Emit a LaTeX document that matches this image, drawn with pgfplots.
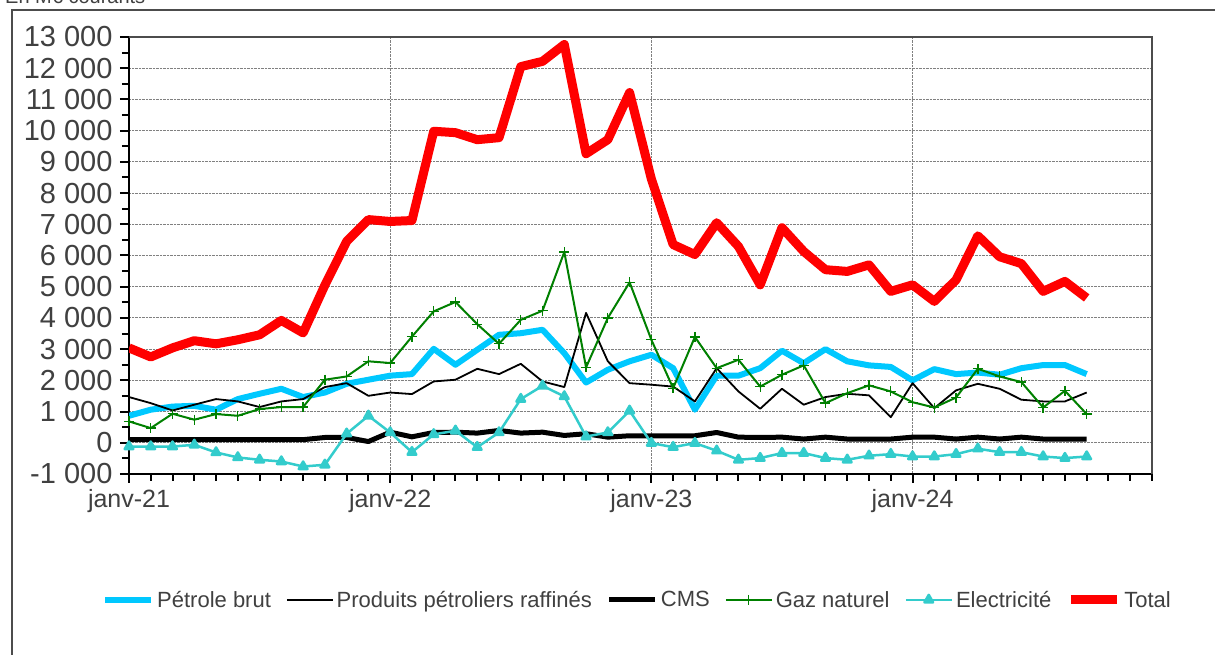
\documentclass[border=0pt]{standalone}
\usepackage{fontspec}
\setmainfont{Liberation Sans}
\usepackage{pgfplots}
\usepackage{pgfplotstable}
\pgfplotsset{compat=1.18}
\definecolor{petrole}{RGB}{0,200,255}
\definecolor{elec}{RGB}{51,204,204}
\definecolor{gaz}{RGB}{0,128,0}
\definecolor{txt}{RGB}{64,64,64}
\pgfplotstableread{
m pet raf cms gaz ele tot
0 865 1465 100 685 -120 3040
1 1060 1270 100 470 -120 2750
2 1160 1035 100 930 -120 3040
3 1185 1220 100 740 -65 3270
4 1060 1400 100 920 -310 3170
5 1400 1325 100 865 -470 3300
6 1570 1145 100 1080 -545 3460
7 1730 1325 100 1145 -600 3920
8 1465 1400 100 1145 -760 3520
9 1610 1785 170 2020 -705 5050
10 1890 1910 170 2125 290 6450
11 2020 1505 40 2610 865 7150
12 2150 1610 340 2555 330 7090
13 2200 1560 190 3400 -300 7120
14 3010 1965 330 4210 270 9980
15 2500 2020 340 4510 385 9935
16 2980 2370 310 3800 -140 9710
17 3460 2200 395 3170 330 9775
18 3510 2530 310 3940 1400 12050
19 3620 1965 340 4230 1825 12220
20 2870 1785 235 6110 1485 12760
21 1930 4160 290 2415 200 9260
22 2340 2610 180 4000 330 9710
23 2610 1910 225 5140 1025 11220
24 2820 1860 225 3300 -10 8450
25 2390 1800 225 1750 -140 6350
26 1060 1325 225 3390 -10 6030
27 2150 2390 330 2390 -255 7050
28 2150 1645 180 2660 -545 6290
29 2390 1090 170 1800 -490 5060
30 2950 1730 180 2180 -330 6890
31 2550 1220 120 2480 -330 6130
32 3000 1465 180 1270 -490 5545
33 2610 1570 120 1590 -545 5490
34 2480 1520 120 1840 -415 5700
35 2430 820 120 1645 -365 4850
36 2000 1910 180 1300 -440 5060
37 2360 1110 180 1130 -440 4530
38 2200 1680 120 1450 -365 5220
39 2250 1890 180 2370 -190 6630
40 2180 1730 120 2125 -300 5960
41 2390 1380 180 1945 -300 5740
42 2490 1325 120 1130 -440 4850
43 2490 1325 120 1665 -490 5170
44 2200 1610 120 920 -440 4640
}\data
\begin{document}
\begin{tikzpicture}
\useasboundingbox (0,0) rectangle (1215pt,655pt);
\fill[white] (0,0) rectangle (1215pt,655pt);
\node[anchor=base west, font=\fontsize{20}{24}\selectfont, text=txt, inner sep=0pt] at (5pt,651pt) {En M€ courants};
\draw[gray!60!black, line width=1.2pt] (12pt,-5pt) -- (12pt,645pt) -- (1220pt,645pt);
\begin{axis}[
  at={(129pt,181pt)}, anchor=south west, scale only axis,
  width=1023pt, height=437pt,
  xmin=0, xmax=47, ymin=-1000, ymax=13000,
  axis x line*=bottom, axis y line*=left,
  axis line style={line width=2.5pt, black},
  xtick={0,12,24,36}, xticklabels={janv-21,janv-22,janv-23,janv-24},
  minor xtick={1,...,47},
  ytick={-1000,0,...,13000}, minor ytick={-500,500,...,12500},
  scaled y ticks=false,
  tick align=outside, major tick length=9pt, minor tick length=7pt,
  tick style={black, line width=2pt},
  grid=major, major grid style={densely dotted, gray, line width=1pt},
  y tick label style={font=\fontsize{29}{32}\selectfont, text=txt, xshift=-4pt},
  x tick label style={font=\fontsize{25}{30}\selectfont, text=txt, yshift=-3pt},
  /pgf/number format/1000 sep={\ },
  /pgf/number format/assume math mode=true,
  legend columns=6,
  legend style={at={(0.4976,-0.288)}, anchor=center, draw=none, fill=none,
    font=\fontsize{22}{26}\selectfont, text=txt,
    /tikz/every even column/.append style={column sep=12pt},
    nodes={inner xsep=3pt}},
  legend image code/.code={\draw[mark repeat=2,mark phase=2,#1] plot coordinates {(0pt,0pt) (23pt,0pt) (46pt,0pt)};},
  line join=round,
]
\addplot[petrole, line width=6pt] table[x=m,y=pet] {\data};
\addlegendentry{Pétrole brut}
\addplot[black, line width=1.8pt] table[x=m,y=raf] {\data};
\addlegendentry{Produits pétroliers raffinés}
\addplot[black, line width=5pt] table[x=m,y=cms] {\data};
\addlegendentry{CMS}
\addplot[gaz, line width=2pt, mark=+, mark size=5pt, mark options={line width=1.3pt}] table[x=m,y=gaz] {\data};
\addlegendentry{Gaz naturel}
\addplot[elec, line width=2.5pt, mark=triangle*, mark size=5pt] table[x=m,y=ele] {\data};
\addlegendentry{Electricité}
\addplot[red, line width=9pt] table[x=m,y=tot] {\data};
\addlegendentry{Total}
\end{axis}
\draw[gray!60!black, line width=1.5pt] (129pt,618pt) -- (1152pt,618pt) -- (1152pt,181pt);
\end{tikzpicture}
\end{document}
